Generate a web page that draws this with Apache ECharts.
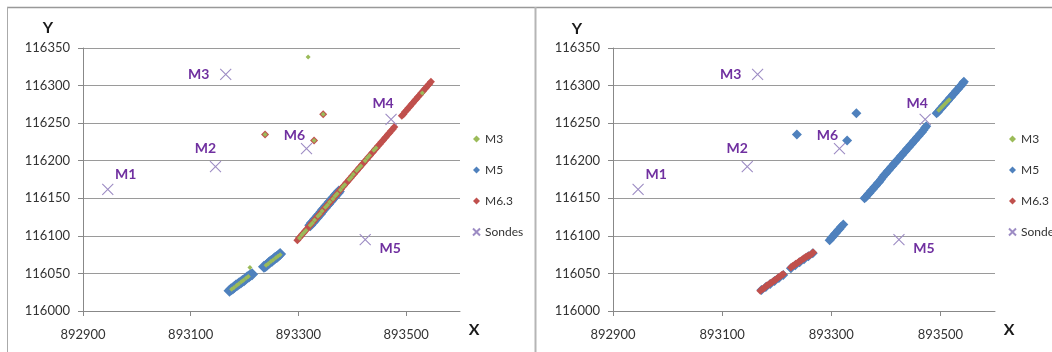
<!DOCTYPE html>
<html>
<head>
<meta charset="utf-8">
<script src="https://cdn.jsdelivr.net/npm/echarts@6/dist/echarts.min.js"></script>
<style>
  html, body { margin: 0; padding: 0; background: #fff; }
  #chart { width: 1052px; height: 352px; }
</style>
</head>
<body>
<div id="chart"></div>
<script>
// tick labels
const xTicks = [892900, 893100, 893300, 893500];
const seriesNames = ['M3', 'M5', 'M6.3', 'Sondes'];

// probes (Sondes), same in both charts
const sondeNames = ['M1', 'M2', 'M3', 'M4', 'M5', 'M6'];
const sondes = [
  [892946, 116162], [893146, 116192], [893165, 116315],
  [893472, 116255], [893424, 116095], [893315, 116216]
];

// left chart
const leftM3 = [
  [893176, 116029], [893180, 116031], [893185, 116034], [893189, 116036], [893194, 116039], [893198, 116041],
  [893203, 116044], [893207, 116046],
  [893210, 116058],
  [893240, 116061], [893244, 116063], [893249, 116066], [893253, 116068], [893258, 116071], [893262, 116073],
  [893266, 116075],
  [893302, 116097], [893306, 116101], [893310, 116104], [893314, 116107], [893322, 116114], [893326, 116117],
  [893330, 116121], [893336, 116126], [893340, 116129], [893344, 116133], [893350, 116138], [893354, 116141],
  [893358, 116145], [893364, 116149], [893368, 116153], [893372, 116156], [893378, 116161], [893382, 116165],
  [893386, 116168], [893394, 116175], [893398, 116178], [893402, 116182], [893408, 116187], [893412, 116190],
  [893416, 116193], [893424, 116200], [893428, 116204], [893432, 116207], [893440, 116214], [893444, 116217],
  [893530, 116290],
  [893318, 116338], [893238, 116235], [893346, 116262], [893329, 116227]
];
const leftM5 = [
  [893172, 116027], [893175, 116029], [893178, 116030], [893181, 116032], [893184, 116034], [893187, 116035],
  [893190, 116037], [893193, 116038], [893196, 116040], [893199, 116041], [893202, 116043], [893205, 116045],
  [893208, 116046], [893211, 116048], [893214, 116049],
  [893236, 116059], [893239, 116060], [893242, 116062], [893245, 116064], [893248, 116066], [893251, 116067],
  [893254, 116069], [893257, 116071], [893260, 116072], [893263, 116074], [893266, 116076],
  [893322, 116114], [893325, 116117], [893328, 116119], [893331, 116122], [893334, 116124], [893337, 116127],
  [893340, 116129], [893343, 116132], [893346, 116135], [893349, 116137], [893352, 116140], [893355, 116142],
  [893358, 116145], [893361, 116147], [893364, 116150], [893367, 116152], [893370, 116155], [893373, 116157],
  [893375, 116159]
];
const leftM63 = [
  [893298, 116094], [893301, 116097], [893304, 116099], [893307, 116102], [893310, 116104], [893313, 116107],
  [893316, 116109], [893319, 116112], [893322, 116114], [893325, 116117], [893328, 116119], [893331, 116122],
  [893334, 116124], [893337, 116127], [893340, 116129], [893343, 116132], [893346, 116134], [893349, 116137],
  [893352, 116139], [893355, 116142], [893358, 116144], [893361, 116147], [893364, 116149], [893367, 116152],
  [893370, 116154], [893373, 116157], [893376, 116160], [893379, 116162], [893382, 116165], [893385, 116167],
  [893388, 116170], [893391, 116172], [893394, 116175], [893397, 116177], [893400, 116180], [893403, 116182],
  [893406, 116185], [893409, 116187], [893412, 116190], [893415, 116192], [893418, 116195], [893421, 116197],
  [893424, 116200], [893427, 116202], [893430, 116205], [893433, 116207], [893436, 116210], [893439, 116212],
  [893442, 116215], [893445, 116217], [893448, 116220], [893451, 116222], [893454, 116225], [893457, 116227],
  [893460, 116230], [893463, 116232], [893466, 116235], [893469, 116237], [893472, 116240], [893475, 116242],
  [893478, 116245],
  [893492, 116260], [893495, 116262], [893498, 116265], [893501, 116267], [893504, 116270], [893507, 116272],
  [893510, 116275], [893513, 116277], [893516, 116280], [893519, 116282], [893522, 116285], [893525, 116287],
  [893528, 116290], [893531, 116292], [893534, 116295], [893537, 116297], [893540, 116300], [893543, 116302],
  [893546, 116305],
  [893238, 116235], [893346, 116262], [893329, 116227]
];

// right chart
const rightM3 = [
  [893497, 116267], [893501, 116270], [893505, 116273], [893509, 116276], [893513, 116279], [893516, 116281]
];
const rightM5 = [
  [893237, 116235], [893346, 116263], [893329, 116227],
  [893172, 116028], [893180, 116032], [893188, 116036], [893196, 116040], [893204, 116044], [893212, 116048],
  [893226, 116057], [893234, 116061], [893242, 116065], [893250, 116069], [893258, 116073], [893266, 116077],
  [893297, 116094], [893300, 116097], [893303, 116099], [893306, 116102], [893309, 116104], [893312, 116107],
  [893315, 116109], [893318, 116112], [893322, 116115],
  [893361, 116150], [893364, 116152], [893367, 116155], [893370, 116157], [893373, 116160], [893376, 116162],
  [893379, 116165], [893382, 116167], [893385, 116170], [893388, 116172], [893391, 116175], [893394, 116178],
  [893397, 116181], [893400, 116183], [893403, 116186], [893406, 116188], [893409, 116191], [893412, 116193],
  [893415, 116196], [893418, 116198], [893421, 116201], [893424, 116203], [893427, 116206], [893430, 116208],
  [893433, 116211], [893436, 116213], [893439, 116216], [893442, 116218], [893445, 116221], [893448, 116223],
  [893451, 116226], [893454, 116228], [893457, 116231], [893460, 116233], [893463, 116236], [893466, 116238],
  [893469, 116241], [893472, 116244], [893474, 116246],
  [893493, 116263], [893496, 116265], [893499, 116268], [893502, 116270], [893505, 116273], [893508, 116275],
  [893511, 116278], [893514, 116280], [893517, 116283], [893520, 116285], [893523, 116288], [893526, 116290],
  [893529, 116293], [893532, 116295], [893535, 116298], [893538, 116300], [893541, 116303], [893543, 116305]
];
const rightM63 = [
  [893170, 116027], [893173, 116029], [893176, 116030], [893179, 116032], [893182, 116034], [893185, 116035],
  [893188, 116037], [893191, 116038], [893194, 116040], [893197, 116041], [893200, 116043], [893203, 116045],
  [893206, 116046], [893209, 116048], [893212, 116049],
  [893226, 116058], [893229, 116060], [893232, 116061], [893235, 116063], [893238, 116064], [893241, 116066],
  [893244, 116067], [893247, 116069], [893250, 116070], [893253, 116072], [893256, 116073], [893259, 116074],
  [893262, 116075], [893265, 116077], [893267, 116078]
];

const colors = {
  m3: '#9BBB59',
  m5: '#4F81BD',
  m63: '#C0504D',
  sonde: '#9D8CC4',
  label: '#7030A0',
  text: '#333333',
  grid: '#9a9a9a',
  axis: '#888888'
};
const font = 'Lato, "Liberation Sans", sans-serif';

// label offsets for the probe names (px)
const labelOffsets = [[18, -15], [-10, -18], [-27, 0], [-8, -16], [25, 9], [-12, -13]];

const crossPath = 'path://M0,0L10,10M10,0L0,10';

function makeAxes(idx) {
  const xAxis = {
    gridIndex: idx,
    type: 'value',
    min: 892900,
    max: 893600,
    interval: 200,
    splitLine: { show: false },
    axisLine: { show: true, onZero: false, lineStyle: { color: colors.axis } },
    axisTick: { show: true, length: 5, customValues: xTicks, lineStyle: { color: colors.axis } },
    axisLabel: {
      customValues: xTicks, color: colors.text, fontSize: 13, fontFamily: font, margin: 17,
      formatter: v => String(v)
    }
  };
  const yAxis = {
    gridIndex: idx,
    type: 'value',
    min: 116000,
    max: 116350,
    interval: 50,
    splitLine: { show: true, lineStyle: { color: colors.grid, width: 1 } },
    axisLine: { show: true, onZero: false, lineStyle: { color: colors.axis } },
    axisTick: { show: true, length: 5, lineStyle: { color: colors.axis } },
    axisLabel: {
      color: colors.text, fontSize: 13, fontFamily: font, margin: 13,
      formatter: v => String(v)
    }
  };
  return { xAxis, yAxis };
}

function makeSeries(idx, m3, m5, m63, sizeM5) {
  return [
    {
      name: 'M5', type: 'scatter', xAxisIndex: idx, yAxisIndex: idx,
      symbol: 'diamond', symbolSize: sizeM5, data: m5,
      itemStyle: { color: colors.m5, opacity: 1 }
    },
    {
      name: 'M6.3', type: 'scatter', xAxisIndex: idx, yAxisIndex: idx,
      symbol: 'diamond', symbolSize: 8, data: m63,
      itemStyle: { color: colors.m63, opacity: 1 }
    },
    {
      name: 'M3', type: 'scatter', xAxisIndex: idx, yAxisIndex: idx,
      symbol: 'diamond', symbolSize: 5, data: m3,
      itemStyle: { color: colors.m3, opacity: 1 }
    },
    {
      name: 'Sondes', type: 'scatter', xAxisIndex: idx, yAxisIndex: idx,
      symbol: crossPath, symbolSize: 11,
      itemStyle: { color: 'rgba(0,0,0,0)', borderColor: colors.sonde, borderWidth: 1.1, opacity: 1 },
      data: sondes.map((p, i) => ({
        name: sondeNames[i],
        value: p,
        label: {
          show: true,
          position: 'inside',
          offset: labelOffsets[i],
          formatter: '{b}',
          color: colors.label,
          fontSize: 14,
          fontWeight: 'bold',
          fontFamily: font
        }
      }))
    }
  ];
}

function makeLegend(left) {
  return {
    orient: 'vertical',
    left: left,
    top: 128,
    itemWidth: 7,
    itemHeight: 7,
    itemGap: 19,
    data: seriesNames,
    textStyle: { color: colors.text, fontSize: 12, fontFamily: font }
  };
}

const chart = echarts.init(document.getElementById('chart'), null, { renderer: 'canvas' });

const a0 = makeAxes(0);
const a1 = makeAxes(1);

chart.setOption({
  animation: false,
  backgroundColor: '#fff',
  grid: [
    { left: 83, top: 48, width: 377, height: 263 },
    { left: 613, top: 48, width: 382, height: 263 }
  ],
  xAxis: [a0.xAxis, a1.xAxis],
  yAxis: [a0.yAxis, a1.yAxis],
  legend: [makeLegend(467), makeLegend(1003)],
  series: makeSeries(0, leftM3, leftM5, leftM63, 12).concat(makeSeries(1, rightM3, rightM5, rightM63, 10)),
  graphic: [
    { type: 'line', shape: { x1: 7, y1: 7.5, x2: 1052, y2: 7.5 }, style: { stroke: '#999', lineWidth: 1.5 } },
    { type: 'line', shape: { x1: 7.5, y1: 7, x2: 7.5, y2: 352 }, style: { stroke: '#aaa', lineWidth: 1 } },
    { type: 'line', shape: { x1: 535.5, y1: 7, x2: 535.5, y2: 352 }, style: { stroke: '#b5b5b5', lineWidth: 2 } },
    { type: 'text', x: 48, y: 28, style: { text: 'Y', fill: '#1a1a1a', font: 'bold 16px ' + font, align: 'center', verticalAlign: 'middle' } },
    { type: 'text', x: 474, y: 330, style: { text: 'X', fill: '#1a1a1a', font: 'bold 16px ' + font, align: 'center', verticalAlign: 'middle' } },
    { type: 'text', x: 577, y: 29, style: { text: 'Y', fill: '#1a1a1a', font: 'bold 16px ' + font, align: 'center', verticalAlign: 'middle' } },
    { type: 'text', x: 1009, y: 330, style: { text: 'X', fill: '#1a1a1a', font: 'bold 16px ' + font, align: 'center', verticalAlign: 'middle' } }
  ]
});

window.addEventListener('resize', () => chart.resize());
</script>
</body>
</html>
